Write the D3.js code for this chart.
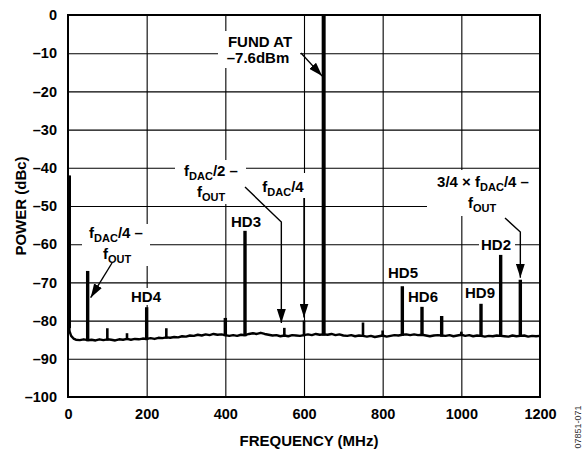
<!DOCTYPE html>
<html><head><meta charset="utf-8">
<script src="https://cdn.jsdelivr.net/npm/d3@7"></script>
<style>
html,body{margin:0;padding:0;background:#fff;}
svg{display:block;font-family:Arial,"Liberation Sans",Helvetica,sans-serif;font-weight:bold;}
</style></head><body>
<div id="chart"></div>
<script>
// ---------- data ----------
const xTicks = [0, 200, 400, 600, 800, 1000, 1200];
const yTicks = [0, -10, -20, -30, -40, -50, -60, -70, -80, -90, -100];
const xTitle = "FREQUENCY (MHz)";
const yTitle = "POWER (dBc)";
const figId = "07851-071";

// noise floor [MHz, dBc]
const noiseFloor = [
 [0,-42],[0.5,-70],[1.5,-80],[4,-82.8],[8,-84],[14,-84.7],[20,-85],[30,-85.1],[40,-84.9],[50,-85.1],
 [60,-85.0],[70,-85.2],[80,-84.9],[90,-85.1],[100,-84.9],[110,-85.0],[120,-85.2],[130,-84.9],[140,-85.0],[150,-84.8],
 [160,-85.0],[170,-84.8],[180,-84.9],[190,-84.7],[200,-84.8],[210,-84.6],[220,-84.8],[230,-84.5],[240,-84.6],[250,-84.4],
 [260,-84.5],[270,-84.3],[280,-84.4],[290,-84.1],[300,-84.2],[310,-83.9],[320,-84.0],[330,-83.7],[340,-83.9],[350,-83.6],
 [360,-83.8],[370,-83.5],[380,-83.7],[390,-83.6],[400,-83.8],[410,-84.0],[420,-83.8],[430,-84.0],[440,-83.7],[450,-83.8],
 [460,-83.5],[470,-83.3],[480,-83.5],[490,-83.2],[500,-83.5],[510,-83.7],[520,-83.9],[530,-83.8],[540,-84.1],[550,-83.9],
 [560,-84.1],[570,-83.8],[580,-83.9],[590,-84.0],[600,-83.8],[610,-83.6],[620,-83.8],[630,-83.5],[640,-83.7],[650,-83.6],
 [660,-83.7],[670,-83.5],[680,-83.8],[690,-83.6],[700,-83.9],[710,-84.0],[720,-83.8],[730,-84.1],[740,-83.9],[750,-84.0],
 [760,-84.2],[770,-84.0],[780,-84.3],[790,-84.1],[800,-83.9],[810,-84.2],[820,-84.0],[830,-83.8],[840,-83.9],[850,-83.7],
 [860,-83.6],[870,-83.8],[880,-83.6],[890,-83.8],[900,-83.7],[910,-83.9],[920,-84.1],[930,-83.9],[940,-83.8],[950,-83.9],
 [960,-84.0],[970,-83.8],[980,-84.1],[990,-83.9],[1000,-83.7],[1010,-84.0],[1020,-83.8],[1030,-84.1],[1040,-83.9],[1050,-84.0],
 [1060,-84.2],[1070,-84.0],[1080,-84.1],[1090,-83.9],[1100,-84.0],[1110,-84.1],[1120,-84.2],[1130,-83.9],[1140,-84.1],[1150,-84.0],
 [1160,-83.9],[1170,-84.2],[1180,-84.0],[1190,-84.1],[1200,-84.0]
];
// spurs
const spurFreq = [50, 100, 150, 200, 250, 400, 450, 550, 600, 650, 750, 800, 850, 900, 950, 1000, 1050, 1100, 1150];
const spurDb   = [-67, -82, -83.3, -76.5, -82, -79.3, -56.5, -81.9, -80, 0, -80.5, -82.6, -71, -76.4, -78.8, -82.9, -75.6, -62.8, -69.3];

// ---------- layout ----------
const W = 583, H = 455;
const L = 68, R = 540, T = 15, B = 397;
const x = d3.scaleLinear().domain([0, 1200]).range([L, R]);
const y = d3.scaleLinear().domain([-100, 0]).range([B, T]);
const fmt = d => d < 0 ? "\u2013" + (-d) : String(d);

const svg = d3.select("#chart").append("svg").attr("width", W).attr("height", H);
const defs = svg.append("defs");
defs.append("clipPath").attr("id", "clip").append("rect")
  .attr("x", L).attr("y", T).attr("width", R - L).attr("height", B - T);
defs.append("marker").attr("id", "arr").attr("viewBox", "0 0 14 9")
  .attr("refX", 14).attr("refY", 4.5).attr("markerWidth", 14).attr("markerHeight", 9)
  .attr("markerUnits", "userSpaceOnUse").attr("orient", "auto")
  .append("path").attr("d", "M0,0L14,4.5L0,9Z").attr("fill", "#000");

// gridlines
svg.append("g").attr("transform", `translate(0,${B})`)
  .call(d3.axisBottom(x).tickValues(xTicks.slice(1, -1)).tickSize(-(B - T)).tickFormat(""))
  .call(g => g.select(".domain").remove())
  .selectAll("line").attr("stroke", "#000").attr("stroke-width", 1.1);
svg.append("g").attr("transform", `translate(${L},0)`)
  .call(d3.axisLeft(y).tickValues(yTicks.slice(1, -1)).tickSize(-(R - L)).tickFormat(""))
  .call(g => g.select(".domain").remove())
  .selectAll("line").attr("stroke", "#000").attr("stroke-width", 1.1);

// white boxes behind annotations (interrupt gridlines)
const boxes = [
  [218, 31, 82, 37], [175, 160, 71, 44], [256, 173, 54, 25], [82, 224, 68, 42],
  [128, 288, 36, 17], [228, 212, 36, 18], [386, 264, 36, 17], [406, 288, 35, 17],
  [463, 284, 35, 17], [479, 236, 36, 18], [427, 170, 113, 46]
];
svg.append("g").selectAll("rect").data(boxes).join("rect")
  .attr("x", d => d[0]).attr("y", d => d[1]).attr("width", d => d[2]).attr("height", d => d[3])
  .attr("fill", "#fff");

// spectrum
const plot = svg.append("g").attr("clip-path", "url(#clip)");
plot.append("path").datum(noiseFloor)
  .attr("d", d3.line().x(d => x(d[0])).y(d => y(d[1])))
  .attr("fill", "none").attr("stroke", "#000").attr("stroke-width", 2.4).attr("stroke-linejoin", "round");
plot.append("line").attr("x1", x(0) + 1.5).attr("x2", x(0) + 1.5).attr("y1", y(-42)).attr("y2", y(-82))
  .attr("stroke", "#000").attr("stroke-width", 3);
const bis = d3.bisector(d => d[0]).left;
const floorAt = f => noiseFloor[Math.min(noiseFloor.length - 1, bis(noiseFloor, f))][1];
const spurs = spurFreq.map((f, i) => ({ f, db: spurDb[i] }));
plot.append("g").selectAll("line").data(spurs).join("line")
  .attr("x1", d => x(d.f)).attr("x2", d => x(d.f))
  .attr("y1", d => y(floorAt(d.f) - 0.3)).attr("y2", d => y(d.db))
  .attr("stroke", "#000")
  .attr("stroke-width", d => d.db > -20 ? 4 : (d.db > -80 ? 3.4 : 2.6));

// frame
svg.append("rect").attr("x", L).attr("y", T).attr("width", R - L).attr("height", B - T)
  .attr("fill", "none").attr("stroke", "#000").attr("stroke-width", 2);

// axis labels
svg.append("g").attr("transform", `translate(${L},0)`)
  .call(d3.axisLeft(y).tickValues(yTicks).tickSize(0).tickPadding(11).tickFormat(fmt))
  .call(g => g.select(".domain").remove())
  .selectAll("text").attr("font-size", 14.5).attr("font-family", null).attr("fill", "#000").attr("font-weight", "bold");
svg.append("g").attr("transform", `translate(0,${B})`)
  .call(d3.axisBottom(x).tickValues(xTicks).tickSize(0).tickPadding(12).tickFormat(fmt))
  .call(g => g.select(".domain").remove())
  .selectAll("text").attr("font-size", 14.5).attr("font-family", null).attr("fill", "#000").attr("font-weight", "bold");

svg.append("text").attr("x", 309).attr("y", 446).attr("text-anchor", "middle")
  .attr("font-size", 15).text(xTitle);
svg.append("text").attr("transform", "translate(25.5,206) rotate(-90)").attr("text-anchor", "middle")
  .attr("font-size", 15).text(yTitle);
svg.append("text").attr("transform", "translate(581,427) rotate(-90)").attr("text-anchor", "middle")
  .attr("font-size", 9).attr("font-weight", "normal").attr("fill", "#333").text(figId);

// annotations: segments [text, isSub]
function rich(xc, yb, segs, anchor = "middle") {
  const t = svg.append("text").attr("x", xc).attr("y", yb).attr("text-anchor", anchor).attr("font-size", 15);
  let sub = false;
  segs.forEach(([s, isSub]) => {
    const ts = t.append("tspan").text(s);
    if (isSub && !sub) ts.attr("dy", 3.5).attr("font-size", 11);
    else if (isSub) ts.attr("font-size", 11);
    else if (!isSub && sub) ts.attr("dy", -3.5);
    sub = isSub;
  });
}
rich(260, 47, [["FUND AT", false]]);
rich(258, 63, [["\u20137.6dBm", false]]);
rich(211, 176, [["f", false], ["DAC", true], ["/2 \u2013", false]]);
rich(211, 197, [["f", false], ["OUT", true]]);
rich(283, 192, [["f", false], ["DAC", true], ["/4", false]]);
rich(116, 238, [["f", false], ["DAC", true], ["/4 \u2013", false]]);
rich(117, 259, [["f", false], ["OUT", true]]);
rich(483, 187, [["3/4 \u00d7 f", false], ["DAC", true], ["/4 \u2013", false]]);
rich(482, 208, [["f", false], ["OUT", true]]);
const hd = [["HD4", 146, 302], ["HD3", 246, 227], ["HD5", 403, 278], ["HD6", 423, 302], ["HD9", 480, 298], ["HD2", 496, 250]];
hd.forEach(([s, xx, yy]) => rich(xx, yy, [[s, false]]));

// arrows
const arrow = pts => svg.append("path").attr("d", d3.line()(pts))
  .attr("fill", "none").attr("stroke", "#000").attr("stroke-width", 1.4).attr("marker-end", "url(#arr)");
arrow([[301, 53], [x(650) - 1.5, y(-16)]]);
arrow([[112, 263], [x(50) + 3, y(-74)]]);
arrow([[245, 187], [x(550) - 3, 222], [x(550) - 3, y(-80.6)]]);
arrow([[x(600), 198], [x(600), y(-79.2)]]);
arrow([[505, 218], [x(1150), 232], [x(1150), y(-68.8)]]);
</script></body></html>
